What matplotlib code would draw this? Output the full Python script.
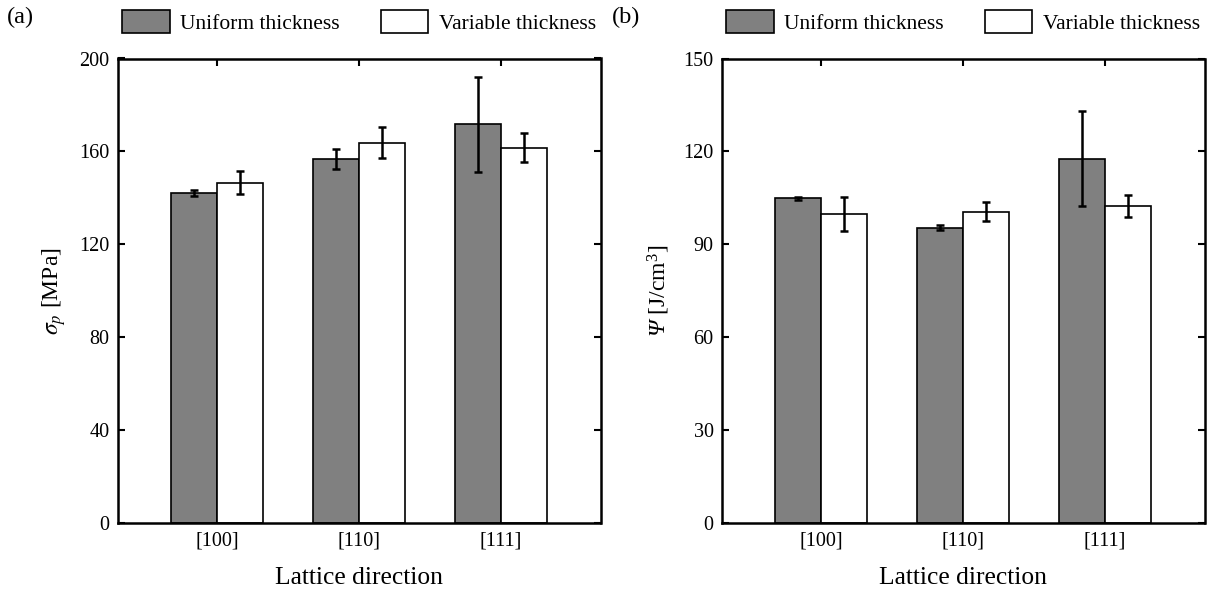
import numpy as np
import matplotlib
matplotlib.use('Agg')
import matplotlib.pyplot as plt

plt.rcParams['font.family'] = ['Liberation Serif', 'DejaVu Serif']
plt.rcParams['mathtext.fontset'] = 'stix'
# custom math font used only for the italic Psi label
plt.rcParams['mathtext.rm'] = 'Liberation Serif'
plt.rcParams['mathtext.it'] = 'Liberation Serif:italic'
plt.rcParams['mathtext.sf'] = 'Liberation Serif:italic'

directions = ['[100]', '[110]', '[111]']
series_names = ['Uniform thickness', 'Variable thickness']

# (a) plateau stress
sigma_uniform = [142.2, 156.8, 171.7]
sigma_uniform_err = [1.3, 4.4, 20.4]
sigma_variable = [146.6, 163.8, 161.6]
sigma_variable_err = [4.9, 6.7, 6.2]

# (b) energy absorption
psi_uniform = [104.8, 95.4, 117.7]
psi_uniform_err = [0.5, 0.75, 15.3]
psi_variable = [99.7, 100.5, 102.3]
psi_variable_err = [5.5, 3.1, 3.5]

fs = 14.5
W, H = 1211, 594
fig = plt.figure(figsize=(W / 100, H / 100), dpi=100)
ax1 = fig.add_axes([118 / W, 71 / H, 482.5 / W, 464.5 / H])
ax2 = fig.add_axes([722 / W, 71 / H, 482.5 / W, 464.5 / H])

x = np.arange(len(directions))
w = 0.325


def panel(ax, u, ue, v, ve, ymax, step, ylabel, mathfam, letter, lx):
    ax.bar(x - w / 2, u, w, color='#808080', edgecolor='black', linewidth=1.2,
           label=series_names[0], zorder=2)
    ax.bar(x + w / 2, v, w, color='white', edgecolor='black', linewidth=1.2,
           label=series_names[1], zorder=2)
    ax.errorbar(x - w / 2, u, yerr=ue, fmt='none', ecolor='black',
                elinewidth=1.8, capsize=3.2, capthick=1.8, zorder=3)
    ax.errorbar(x + w / 2, v, yerr=ve, fmt='none', ecolor='black',
                elinewidth=1.8, capsize=3.2, capthick=1.8, zorder=3)
    ax.set_xlim(-0.7, 2.7)
    ax.set_ylim(0, ymax)
    ax.set_yticks(np.arange(0, ymax + 1, step))
    ax.set_xticks(x)
    ax.set_xticklabels(directions)
    ax.tick_params(direction='in', top=True, right=True, labelsize=fs,
                   width=1.5, length=5, pad=6)
    for s in ax.spines.values():
        s.set_linewidth(1.8)
    ax.set_xlabel('Lattice direction', fontsize=18.4, labelpad=12)
    ax.set_ylabel(ylabel, fontsize=17, labelpad=8, math_fontfamily=mathfam)
    ax.legend(loc='lower center', bbox_to_anchor=(0.5, 1.035), ncol=2,
              frameon=False, fontsize=15.5, handlelength=2.2, handleheight=1.25,
              handletextpad=0.5, columnspacing=1.9, borderaxespad=0)
    fig.text(lx / W, 1 - 17 / H, letter, fontsize=17.5, va='center', ha='left')


panel(ax1, sigma_uniform, sigma_uniform_err, sigma_variable, sigma_variable_err,
      200, 40, r'$\sigma_p$ [MPa]', 'stix', '(a)', 7)
panel(ax2, psi_uniform, psi_uniform_err, psi_variable, psi_variable_err,
      150, 30, r'$\mathsf{\Psi}$ [J/cm$^3$]', 'custom', '(b)', 612)

fig.savefig('out.png', dpi=100)
